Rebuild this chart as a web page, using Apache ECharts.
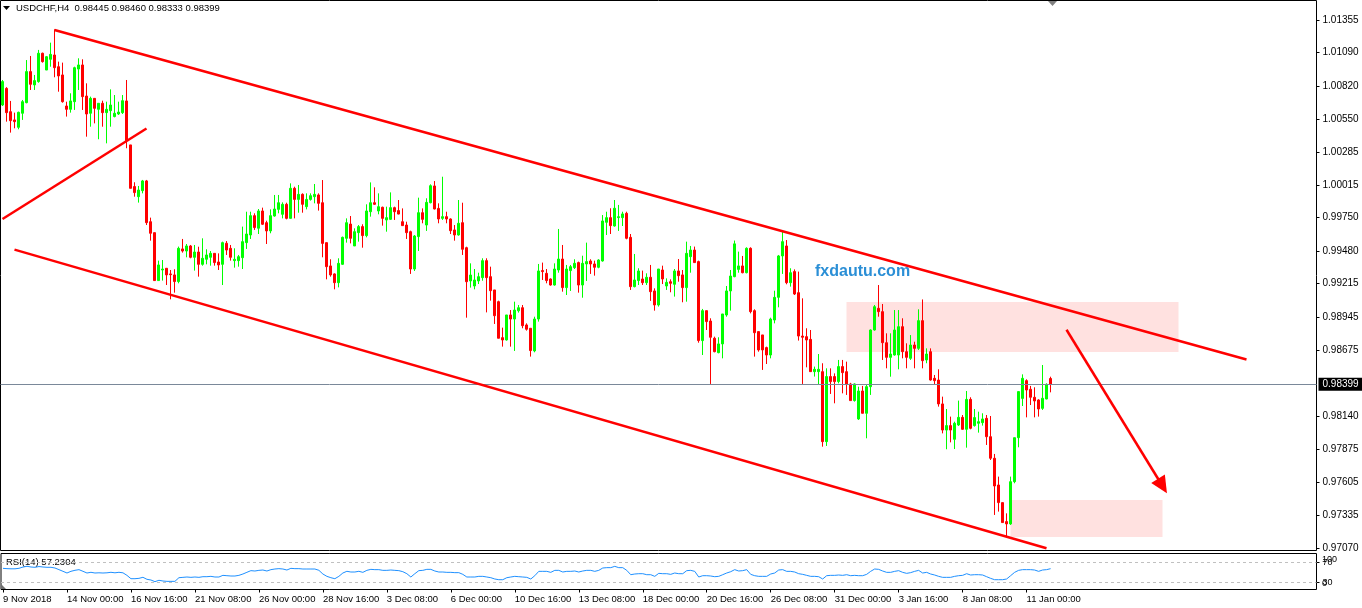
<!DOCTYPE html>
<html><head><meta charset="utf-8">
<script src="https://cdn.jsdelivr.net/npm/echarts@6/dist/echarts.min.js"></script>
<style>html,body{margin:0;padding:0;background:#fff}#c{width:1362px;height:608px}</style>
</head><body><div id="c"></div>
<script>
const symbolName = 'USDCHF';
const timeframe = 'H4';
const slotCount = 329;
const tickLabels = ['9 Nov 2018','14 Nov 00:00','16 Nov 16:00','21 Nov 08:00','26 Nov 00:00','28 Nov 16:00','3 Dec 08:00','6 Dec 00:00','10 Dec 16:00','13 Dec 08:00','18 Dec 00:00','20 Dec 16:00','26 Dec 08:00','31 Dec 00:00','3 Jan 16:00','8 Jan 08:00','11 Jan 00:00'];
const priceTicks = [1.01355,1.01090,1.00820,1.00550,1.00285,1.00015,0.99750,0.99480,0.99215,0.98945,0.98675,0.98140,0.97875,0.97605,0.97335,0.97070];
const rsiLevels = [70, 30];

const open = [1.00665,1.00800,1.00611,1.00544,1.00484,1.00598,1.00684,1.00936,1.00828,1.00855,1.01085,1.00949,1.01036,1.01071,1.00976,1.00909,1.00657,1.00630,1.00692,1.00957,1.00990,1.00738,1.00598,1.00719,1.00630,1.00679,1.00603,1.00619,1.00571,1.00592,1.00603,1.00698,1.00341,1.00003,0.99921,0.99970,1.00049,0.99718,0.99629,0.99240,0.99326,0.99340,0.99294,0.99286,0.99232,
0.99497,0.99480,0.99521,0.99429,0.99472,0.99372,0.99413,0.99429,0.99461,0.99391,0.99372,0.99543,0.99502,0.99402,0.99402,0.99426,0.99548,0.99610,0.99767,0.99665,0.99805,0.99710,0.99643,0.99764,0.99818,0.99778,0.99859,0.99745,0.99989,0.99899,0.99940,0.99840,0.99899,0.99921,0.99935,0.99872,0.99548,0.99359,0.99294,0.99223,0.99372,0.99583,
0.99699,0.99521,0.99629,0.99678,0.99605,0.99799,0.99872,0.99805,0.99835,0.99732,0.99737,0.99832,0.99808,0.99718,0.99691,0.99637,0.99334,0.99597,0.99791,0.99691,0.99872,1.00008,0.99826,0.99745,0.99759,0.99740,0.99651,0.99610,0.99710,0.99507,0.99237,0.99196,0.99237,0.99264,0.99402,0.99272,0.99164,0.99069,0.98777,0.98758,0.98961,0.98928,0.98995,0.99020,
0.98880,0.98853,0.98669,0.98928,0.99321,0.99299,0.99253,0.99204,0.99326,0.99415,0.99183,0.99321,0.99345,0.99386,0.99204,0.99375,0.99399,0.99375,0.99348,0.99399,0.99713,0.99751,0.99683,0.99751,0.99751,0.99786,0.99591,0.99191,0.99240,0.99253,0.99223,0.99267,0.99156,0.99042,0.99326,0.99196,0.99231,0.99210,0.99318,0.99286,0.99183,0.99434,0.99488,0.99394,
0.98753,0.98996,0.98912,0.98772,0.98655,0.98726,0.98961,0.99156,0.99272,0.99331,0.99359,0.99304,0.99502,0.98996,0.98826,0.98799,0.98696,0.98636,0.98920,0.99104,0.99440,0.99521,0.99223,0.99313,0.99142,0.98790,0.98785,0.98763,0.98501,0.98501,0.98501,0.97933,0.98461,0.98461,0.98420,0.98542,0.98501,0.98401,0.98266,0.98117,
0.98344,0.98163,0.98379,0.98839,0.99015,0.98988,0.98736,0.98617,0.98636,0.98636,0.98866,0.98663,0.98609,0.98717,0.98690,0.98915,0.98596,0.98663,0.98447,0.98433,0.98239,0.98027,0.98063,0.97952,0.98068,0.98130,0.98033,0.98276,0.98063,0.98082,0.98087,0.98122,0.97973,0.97798,0.97581,0.97438,0.97284,0.97265,0.97608,0.97965,0.98284,0.98428,0.98358,0.98293,0.98271,0.98203,0.98279,0.98445];
const high = [1.00868,1.00810,1.00698,1.00603,1.00611,1.00706,1.01030,1.01063,1.00909,1.01112,1.01090,1.01063,1.01171,1.01279,1.01017,1.01009,1.00692,1.00760,1.00976,1.01044,1.01036,1.00841,1.00733,1.00719,1.00679,1.00700,1.00692,1.00792,1.00746,1.00692,1.00746,1.00868,1.00341,1.00038,1.00008,1.00057,1.00057,0.99751,0.99629,0.99402,0.99407,0.99340,0.99326,0.99332,0.99516,
0.99578,0.99537,0.99529,0.99529,0.99515,0.99583,0.99494,0.99480,0.99461,0.99461,0.99556,0.99561,0.99529,0.99502,0.99448,0.99678,0.99799,0.99799,0.99786,0.99821,0.99832,0.99726,0.99818,0.99935,0.99935,0.99875,0.99872,1.00029,1.00002,1.00016,0.99948,0.99948,0.99948,1.00024,0.99948,1.00056,0.99548,0.99413,0.99299,0.99421,0.99597,0.99745,
0.99764,0.99664,0.99691,0.99697,0.99859,1.00037,0.99997,0.99948,0.99840,0.99840,0.99956,0.99840,0.99894,0.99826,0.99718,0.99645,0.99610,0.99913,0.99826,0.99908,1.00021,1.00048,0.99867,1.00083,0.99799,0.99745,0.99691,0.99894,0.99872,0.99515,0.99380,0.99334,0.99304,0.99421,0.99421,0.99353,0.99164,0.99077,0.98858,0.98961,0.99001,0.99069,0.99042,0.99042,
0.98893,0.98853,0.98947,0.99375,0.99386,0.99334,0.99258,0.99380,0.99659,0.99529,0.99367,0.99367,0.99413,0.99394,0.99442,0.99548,0.99413,0.99402,0.99413,0.99772,0.99799,0.99827,0.99894,0.99854,0.99799,0.99799,0.99618,0.99456,0.99340,0.99321,0.99299,0.99367,0.99177,0.99334,0.99361,0.99258,0.99250,0.99334,0.99415,0.99326,0.99556,0.99521,0.99516,0.99402,
0.99010,0.98996,0.98934,0.98785,0.98780,0.98969,0.99196,0.99326,0.99565,0.99475,0.99440,0.99510,0.99510,0.99007,0.98826,0.98799,0.98704,0.98939,0.99158,0.99448,0.99637,0.99569,0.99340,0.99331,0.99313,0.99096,0.98853,0.98839,0.98542,0.98644,0.98569,0.98528,0.98528,0.98487,0.98596,0.98596,0.98582,0.98410,0.98406,0.98379,
0.98385,0.98393,0.98844,0.99042,0.99204,0.99050,0.98812,0.98812,0.99001,0.99001,0.98934,0.98731,0.98798,0.98744,0.99007,0.99087,0.98690,0.98690,0.98474,0.98520,0.98298,0.98198,0.98136,0.98095,0.98266,0.98149,0.98344,0.98293,0.98198,0.98176,0.98163,0.98149,0.98141,0.97833,0.97649,0.97438,0.97351,0.97649,0.97965,0.98339,0.98479,0.98439,0.98385,0.98374,0.98277,0.98555,0.98406,0.98460];
const low = [1.00657,1.00530,1.00441,1.00476,1.00468,1.00544,1.00679,1.00787,1.00787,1.00846,1.01009,1.00949,1.00976,1.00890,1.00773,1.00684,1.00571,1.00603,1.00625,1.00787,1.00625,1.00408,1.00489,1.00516,1.00387,1.00489,1.00354,1.00489,1.00565,1.00584,1.00592,1.00314,0.99989,0.99921,0.99873,0.99948,0.99691,0.99564,0.99240,0.99240,0.99240,0.99204,0.99088,0.99142,0.99218,
0.99467,0.99429,0.99421,0.99321,0.99272,0.99361,0.99372,0.99361,0.99361,0.99326,0.99204,0.99448,0.99402,0.99345,0.99353,0.99334,0.99497,0.99578,0.99651,0.99618,0.99691,0.99537,0.99624,0.99759,0.99786,0.99745,0.99737,0.99745,0.99745,0.99791,0.99791,0.99818,0.99889,0.99867,0.99808,0.99429,0.99250,0.99272,0.99169,0.99185,0.99367,0.99548,
0.99542,0.99521,0.99556,0.99507,0.99591,0.99759,0.99854,0.99778,0.99686,0.99637,0.99732,0.99732,0.99778,0.99686,0.99578,0.99294,0.99318,0.99480,0.99705,0.99643,0.99867,0.99818,0.99705,0.99732,0.99705,0.99618,0.99564,0.99605,0.99448,0.98939,0.99183,0.99169,0.99212,0.99239,0.98982,0.99077,0.98888,0.98772,0.98704,0.98753,0.98704,0.98669,0.98980,0.98853,
0.98834,0.98623,0.98658,0.98907,0.99245,0.99218,0.99199,0.99199,0.99304,0.99150,0.99123,0.99156,0.99334,0.99142,0.99101,0.99237,0.99294,0.99280,0.99340,0.99394,0.99610,0.99618,0.99678,0.99643,0.99683,0.99575,0.99164,0.99185,0.99204,0.99204,0.99204,0.99075,0.98996,0.99029,0.99212,0.99164,0.99145,0.99110,0.99231,0.99064,0.99069,0.99304,0.99386,0.98736,
0.98636,0.98839,0.98401,0.98658,0.98650,0.98609,0.98947,0.98996,0.99267,0.99304,0.99299,0.99299,0.98974,0.98623,0.98663,0.98515,0.98563,0.98609,0.98893,0.99023,0.99294,0.99210,0.99191,0.99123,0.98753,0.98401,0.98536,0.98501,0.98461,0.98393,0.97892,0.97898,0.98320,0.98244,0.98406,0.98325,0.98312,0.98266,0.98258,0.98109,
0.98163,0.97960,0.98312,0.98834,0.98947,0.98596,0.98528,0.98460,0.98631,0.98520,0.98609,0.98528,0.98596,0.98528,0.98677,0.98528,0.98569,0.98428,0.98393,0.98217,0.98000,0.97871,0.97927,0.97873,0.98060,0.98030,0.97884,0.98033,0.98055,0.98006,0.98063,0.97906,0.97784,0.97338,0.97365,0.97276,0.97162,0.97257,0.97595,0.97887,0.98222,0.98130,0.98230,0.98130,0.98136,0.98190,0.98277,0.98333];
const close = [1.00855,1.00603,1.00538,1.00530,1.00606,1.00692,1.00936,1.00833,1.00863,1.01085,1.01017,1.01057,1.01076,1.00968,1.00901,1.00692,1.00630,1.00698,1.00968,1.00990,1.00733,1.00592,1.00719,1.00638,1.00679,1.00603,1.00630,1.00665,1.00598,1.00608,1.00700,1.00376,0.99989,0.99954,0.99975,1.00049,0.99710,0.99624,0.99240,0.99367,0.99334,0.99286,0.99288,0.99232,0.99502,
0.99480,0.99521,0.99429,0.99472,0.99372,0.99421,0.99448,0.99461,0.99386,0.99367,0.99548,0.99488,0.99429,0.99413,0.99434,0.99556,0.99618,0.99767,0.99670,0.99805,0.99697,0.99643,0.99767,0.99821,0.99872,0.99859,0.99745,0.99989,0.99899,0.99940,0.99859,0.99899,0.99929,0.99940,0.99867,0.99542,0.99353,0.99286,0.99223,0.99380,0.99591,0.99710,
0.99583,0.99637,0.99678,0.99605,0.99805,0.99872,0.99859,0.99840,0.99745,0.99751,0.99832,0.99799,0.99780,0.99686,0.99629,0.99334,0.99602,0.99791,0.99737,0.99875,1.00010,0.99821,0.99740,0.99759,0.99740,0.99645,0.99610,0.99705,0.99494,0.99231,0.99285,0.99245,0.99272,0.99402,0.99264,0.99158,0.98955,0.98772,0.98758,0.98961,0.98928,0.99001,0.99020,0.98874,
0.98845,0.98672,0.98928,0.99318,0.99313,0.99240,0.99204,0.99334,0.99415,0.99183,0.99334,0.99353,0.99380,0.99204,0.99380,0.99394,0.99375,0.99348,0.99407,0.99724,0.99751,0.99686,0.99827,0.99759,0.99781,0.99583,0.99191,0.99245,0.99318,0.99223,0.99267,0.99150,0.99042,0.99334,0.99253,0.99226,0.99218,0.99318,0.99280,0.99183,0.99461,0.99488,0.99386,0.98753,
0.98996,0.98907,0.98780,0.98663,0.98726,0.98969,0.99156,0.99277,0.99538,0.99359,0.99304,0.99502,0.98988,0.98817,0.98677,0.98677,0.98636,0.98928,0.99104,0.99440,0.99556,0.99223,0.99304,0.99131,0.98790,0.98780,0.98758,0.98501,0.98520,0.98520,0.97933,0.98461,0.98420,0.98420,0.98542,0.98493,0.98401,0.98266,0.98401,0.98344,
0.98163,0.98379,0.98839,0.99028,0.98988,0.98736,0.98617,0.98644,0.98839,0.98866,0.98663,0.98617,0.98717,0.98690,0.98915,0.98590,0.98644,0.98433,0.98428,0.98239,0.98027,0.98063,0.98027,0.98082,0.98130,0.98033,0.98276,0.98041,0.98128,0.98095,0.98117,0.97973,0.97798,0.97573,0.97438,0.97276,0.97265,0.97608,0.97965,0.98339,0.98447,0.98352,0.98293,0.98263,0.98198,0.98285,0.98398,0.98399];
const rsi = [57.9,57.3,57.0,57.0,58.0,60.5,62.0,60.6,60.0,61.5,60.6,60.0,60.0,58.6,55.3,52.0,48.6,52.0,54.0,55.3,52.0,48.6,50.0,48.6,49.0,48.6,49.0,50.0,49.0,50.0,49.0,43.9,37.2,37.2,37.9,40.0,36.0,34.6,31.3,34.0,32.6,31.9,31.9,31.9,39.2,
39.9,40.6,39.9,40.6,39.9,41.2,41.2,41.9,40.6,40.6,43.9,43.2,42.6,42.6,43.9,46.6,50.0,53.3,52.6,53.9,54.6,52.6,55.3,56.6,57.3,56.6,54.6,57.9,57.3,57.3,56.6,56.6,56.6,56.6,54.0,46.6,41.9,39.2,37.2,41.9,48.6,52.0,
50.6,50.6,52.0,49.9,53.9,55.9,55.3,55.3,53.9,53.9,54.6,53.9,53.3,51.2,47.2,40.6,47.2,53.3,53.9,55.9,55.9,52.6,50.6,50.6,49.9,49.9,49.3,49.3,45.9,40.6,40.6,40.6,41.9,41.9,40.6,39.2,36.6,35.2,35.2,39.2,40.6,41.9,41.2,40.6,
39.9,36.6,43.2,51.9,51.9,51.9,49.9,53.9,53.9,50.6,51.9,51.9,52.6,50.6,52.6,53.9,53.9,51.9,53.9,58.6,59.3,59.3,61.9,59.3,59.3,53.9,45.2,46.6,47.2,47.2,45.2,45.2,41.9,47.9,47.2,47.2,45.9,48.6,47.2,47.2,53.3,53.9,51.9,40.6,
43.2,43.2,42.6,41.2,41.9,45.2,48.6,51.2,55.3,52.6,53.3,55.3,45.9,43.2,41.9,41.9,41.9,46.6,48.6,54.6,55.3,51.9,51.9,50.6,47.2,45.9,43.9,41.9,41.9,41.2,36.6,43.2,43.9,43.9,44.6,43.9,45.2,43.2,43.9,43.2,
43.2,45.9,51.9,56.6,55.9,52.6,49.9,49.9,51.9,53.3,49.9,47.9,49.3,51.9,53.9,48.6,49.9,46.6,44.6,41.9,39.9,39.9,39.9,41.9,43.2,43.9,47.2,44.6,45.2,45.2,44.6,41.2,37.9,35.2,35.2,35.2,36.6,43.2,49.9,53.9,55.3,55.3,55.3,54.6,51.9,54.6,55.3,57.2304];

// chart objects (bar index, price)
const channelTop = [[13, 1.01274], [311, 0.98600]];
const channelBottom = [[3, 0.99491], [261, 0.97068]];
const breakLine = [[0, 0.99740], [36, 1.00474]];
const arrowPath = [[266, 0.98841], [290, 0.97573]];
const zoneHigh = [[211, 0.99066], [294, 0.98660]];
const zoneLow = [[252, 0.97459], [290, 0.97159]];

const slots = Array.from({length: slotCount}, (_, i) => String(i));
const candles = open.map((o, i) => [o, close[i], low[i], high[i]]);
const last = open.length - 1;
const f5 = v => v.toFixed(5);
const FONT = 'Liberation Sans';
const PMAX = 1.015132, PMIN = 0.970494;

const chart = echarts.init(document.getElementById('c'), null, {renderer: 'canvas'});
const labelShown = idx => idx % 16 === 0 && idx / 16 < tickLabels.length;

chart.setOption({
  animation: false,
  backgroundColor: '#ffffff',
  textStyle: {fontFamily: FONT},
  grid: [
    {left: 0.5, top: 0.5, width: 1316, height: 550, show: true, borderColor: '#000', borderWidth: 1, backgroundColor: 'transparent'},
    {left: 0.5, top: 553.5, width: 1316, height: 36, show: true, borderColor: '#000', borderWidth: 1, backgroundColor: 'transparent'}
  ],
  xAxis: [
    {type: 'category', gridIndex: 0, data: slots, boundaryGap: true, axisLine: {show: false}, axisTick: {show: false}, axisLabel: {show: false}, splitLine: {show: false}},
    {type: 'category', gridIndex: 1, data: slots, boundaryGap: true, axisLine: {show: false},
      axisTick: {show: true, alignWithLabel: true, interval: labelShown, length: 3, lineStyle: {color: '#000'}},
      axisLabel: {show: true, interval: labelShown, align: 'left', margin: 5, color: '#000', fontSize: 9.5, fontFamily: FONT,
        formatter: (v, idx) => tickLabels[idx / 16] || ''},
      splitLine: {show: false}}
  ],
  yAxis: [
    {type: 'value', gridIndex: 0, position: 'right', min: PMIN, max: PMAX, scale: true,
      axisLine: {show: false}, splitLine: {show: false},
      axisTick: {show: true, length: 3, customValues: priceTicks, lineStyle: {color: '#000'}},
      axisLabel: {show: true, customValues: priceTicks, margin: 6, color: '#000', fontSize: 10, fontFamily: FONT, formatter: v => f5(v)}},
    {type: 'value', gridIndex: 1, position: 'right', min: 15.6, max: 87.6,
      axisLine: {show: false}, splitLine: {show: false},
      axisTick: {show: true, length: 3, customValues: rsiLevels, lineStyle: {color: '#000'}},
      axisLabel: {show: true, customValues: rsiLevels, margin: 6, color: '#000', fontSize: 9, fontFamily: FONT, formatter: v => String(v)}}
  ],
  series: [
    {
      type: 'line', xAxisIndex: 0, yAxisIndex: 0, data: [], z: 1, silent: true,
      markArea: {silent: true, itemStyle: {color: '#FFE1E0'},
        data: [zoneHigh, zoneLow].map(z => [{coord: z[0]}, {coord: z[1]}])},
      markLine: {silent: true, symbol: 'none', animation: false, precision: 5,
        lineStyle: {color: '#7A8899', width: 1, type: 'solid'},
        label: {show: true, position: 'end', distance: 2, formatter: () => f5(close[last]), backgroundColor: '#000', color: '#fff', fontSize: 10, fontFamily: FONT, padding: [2, 4, 1, 4]},
        data: [{yAxis: close[last]}]}
    },
    {
      type: 'candlestick', xAxisIndex: 0, yAxisIndex: 0, data: candles, barWidth: 2, z: 3, silent: true,
      itemStyle: {color: '#00FF00', color0: '#FF0000', borderColor: '#00FF00', borderColor0: '#FF0000', borderWidth: 1}
    },
    {
      type: 'line', xAxisIndex: 0, yAxisIndex: 0, data: [], z: 4, silent: true,
      markLine: {silent: true, animation: false, precision: 5, symbol: ['none', 'none'],
        lineStyle: {color: '#FF0000', width: 2.5, type: 'solid'}, label: {show: false},
        data: [
          [{coord: channelTop[0]}, {coord: channelTop[1]}],
          [{coord: channelBottom[0]}, {coord: channelBottom[1]}],
          [{coord: breakLine[0]}, {coord: breakLine[1]}],
          [{coord: arrowPath[0], symbol: 'none'}, {coord: arrowPath[1], symbol: 'triangle', symbolSize: [16, 17]}]
        ]}
    },
    {
      type: 'line', xAxisIndex: 1, yAxisIndex: 1, data: rsi, showSymbol: false, symbol: 'none', z: 3, silent: true,
      lineStyle: {color: '#1E90FF', width: 1},
      markLine: {silent: true, symbol: 'none', animation: false, label: {show: false},
        lineStyle: {color: '#C0C0C0', width: 1, type: [3, 3]},
        data: rsiLevels.map(v => ({yAxis: v}))}
    }
  ],
  graphic: [
    {type: 'polygon', shape: {points: [[3, 6], [10, 6], [6.5, 10]]}, style: {fill: '#000'}, silent: true},
    {type: 'text', left: 16, top: 3, silent: true,
      style: {text: symbolName + ',' + timeframe + '  ' + [open[last], high[last], low[last], close[last]].map(f5).join(' '), fill: '#000', font: '9.5px "Liberation Sans"'}},
    {type: 'polygon', shape: {points: [[1048, 1], [1057, 1], [1052.5, 6]]}, style: {fill: '#808080'}, silent: true},
    {type: 'text', left: 6, top: 557, silent: true,
      style: {text: 'RSI(14) ' + rsi[last].toFixed(4), fill: '#000', font: '9.5px "Liberation Sans"'}},
    {type: 'polygon', shape: {points: [[1, 584], [1, 589], [6, 589]]}, style: {fill: '#707070'}, silent: true},
    {type: 'text', left: 1322, top: 555, silent: true, style: {text: '100', fill: '#000', font: '9px "Liberation Sans"'}},
    {type: 'text', left: 1322, top: 579, silent: true, style: {text: '0', fill: '#000', font: '9px "Liberation Sans"'}},
    {type: 'text', left: 815, top: 264, silent: true, style: {text: 'fxdautu.com', fill: '#2B8FD6', font: 'bold 16px "Liberation Sans"'}}
  ]
});
</script>
</body></html>
